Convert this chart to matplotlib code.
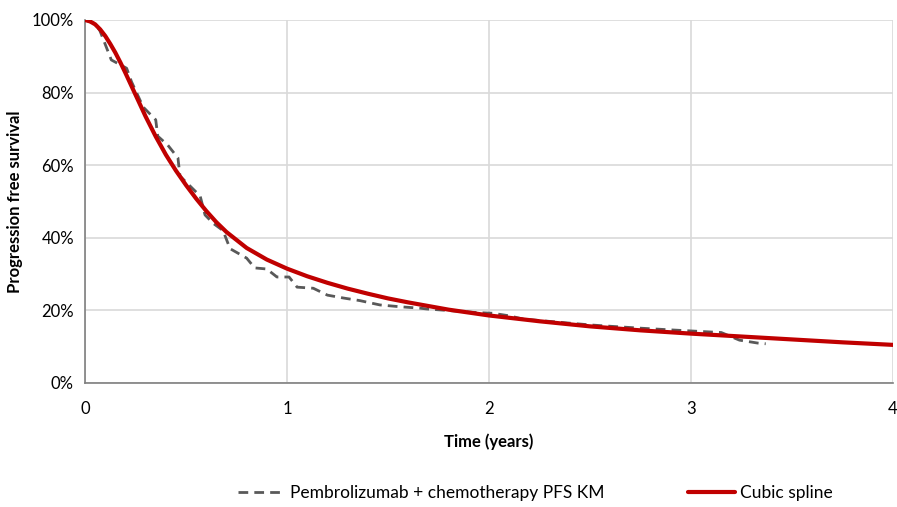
import matplotlib.pyplot as plt
from matplotlib.ticker import PercentFormatter

plt.rcParams['font.family'] = ['Lato', 'DejaVu Sans']

# Kaplan-Meier PFS
km_t = [0, 0.05, 0.074, 0.13, 0.206, 0.23, 0.288, 0.35, 0.36, 0.41, 0.46, 0.47, 0.57,
        0.594, 0.634, 0.683, 0.718, 0.80, 0.84, 0.90, 0.95, 1.01, 1.05, 1.13, 1.20,
        1.28, 1.36, 1.46, 1.56, 1.66, 1.69, 1.94, 2.02, 2.10, 2.17, 2.50, 2.58, 2.75,
        2.91, 3.08, 3.15, 3.24, 3.33, 3.37]
km_s = [100, 99, 97, 89, 86.7, 83, 76, 72.5, 68, 65.5, 62, 57, 51.5,
        46.3, 44, 42, 37, 34.4, 31.7, 31.4, 29.2, 29.2, 26.4, 26.1, 24.2,
        23.4, 22.7, 21.5, 21, 20.6, 20.4, 19.4, 19.2, 18.5, 17.6, 16, 15.7, 15.1,
        14.6, 14.1, 13.9, 11.8, 11, 10.8]

# cubic spline fit
sp_t = [0, 0.025, 0.05, 0.075, 0.1, 0.125, 0.15, 0.175, 0.2, 0.225, 0.25, 0.3, 0.35, 0.4,
        0.45, 0.5, 0.55, 0.6, 0.65, 0.7, 0.8, 0.9, 1.0, 1.1, 1.2, 1.3, 1.4, 1.5, 1.6,
        1.8, 2.0, 2.25, 2.5, 2.75, 3.0, 3.25, 3.5, 3.75, 4.0]
sp_s = [100, 99.6, 98.8, 97.4, 95.6, 93.4, 91.0, 88.3, 85.4, 82.4, 79.4, 73.4, 67.9, 62.9,
        58.5, 54.5, 50.8, 47.4, 44.3, 41.6, 37.2, 34.0, 31.5, 29.4, 27.6, 26.0, 24.6, 23.3, 22.2,
        20.2, 18.6, 17.0, 15.6, 14.5, 13.6, 12.8, 12.0, 11.2, 10.5]

fig = plt.figure(figsize=(8.97, 5.07), dpi=100)
ax = fig.add_axes([0.0948, 0.2446, 0.9007, 0.716])

ax.plot(km_t, km_s, color='#595959', lw=2, dashes=(3.5, 2.2),
        label='Pembrolizumab + chemotherapy PFS KM', zorder=3)
ax.plot(sp_t, sp_s, color='#C00000', lw=3, label='Cubic spline', zorder=4,
        solid_capstyle='round')

ax.set_xlim(0, 4)
ax.set_ylim(0, 100)
ax.set_xticks([0, 1, 2, 3, 4])
ax.set_yticks(range(0, 101, 20))
ax.yaxis.set_major_formatter(PercentFormatter(decimals=0))
ax.grid(True, color='#d9d9d9', lw=1.2)
ax.set_axisbelow(True)
ax.tick_params(length=0, labelsize=12, colors='#000000', pad=8)
ax.tick_params(axis='x', pad=13)
for s in ['top', 'right']:
    ax.spines[s].set_visible(False)
for s in ['left', 'bottom']:
    ax.spines[s].set_color('#7f7f7f')
    ax.spines[s].set_linewidth(1.2)

ax.set_xlabel('Time (years)', fontsize=12, fontweight='bold', labelpad=12)
ax.set_ylabel('Progression free survival', fontsize=12, fontweight='bold', labelpad=6)

fig.legend(loc='center', bbox_to_anchor=(0.597, 0.028), ncol=2, frameon=False,
           fontsize=12.5, columnspacing=4.8, handlelength=2.7, handletextpad=0.3)

fig.savefig('out.png', dpi=100)
